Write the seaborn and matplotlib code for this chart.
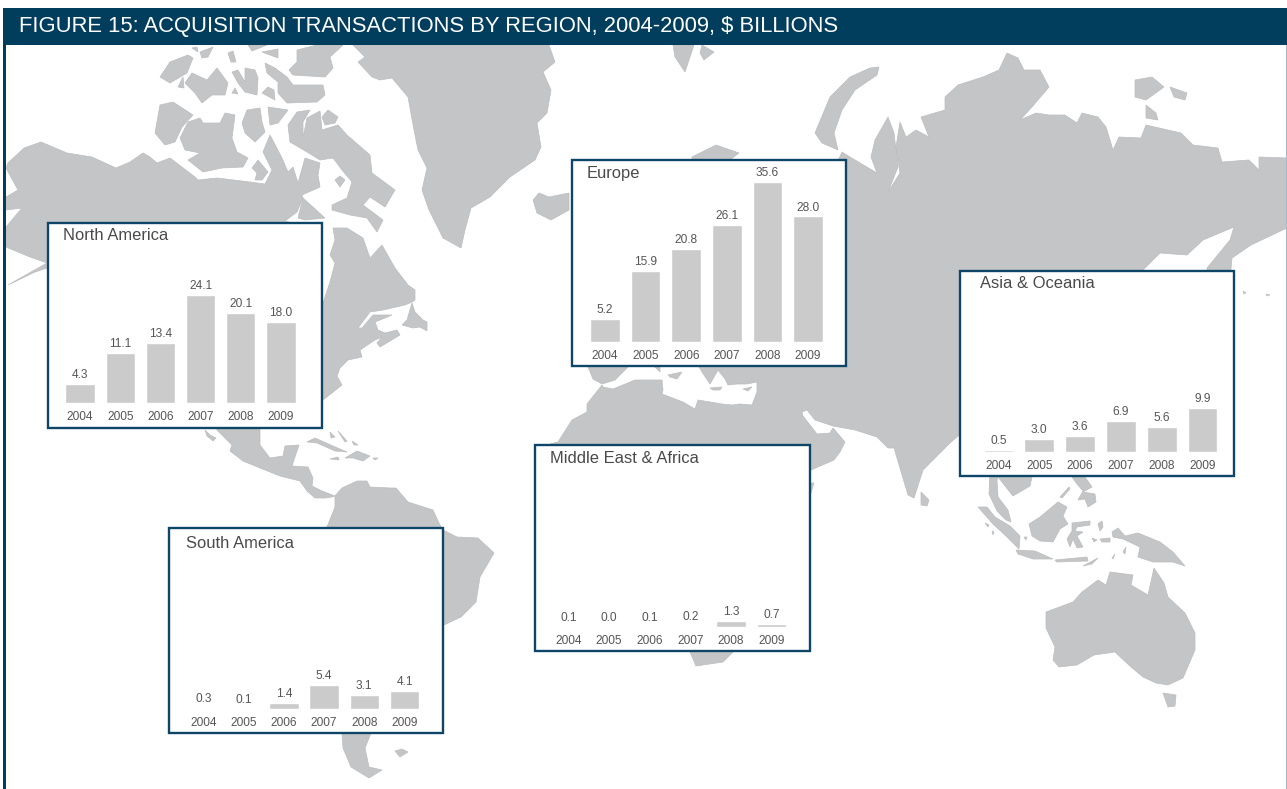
"""
Acquisition transactions by region, small bar charts on a world map
"""
import pandas as pd
import matplotlib.pyplot as plt
from matplotlib.patches import Polygon, Rectangle
import seaborn as sns

years = ["2004", "2005", "2006", "2007", "2008", "2009"]
north_america = [4.3, 11.1, 13.4, 24.1, 20.1, 18.0]
europe = [5.2, 15.9, 20.8, 26.1, 35.6, 28.0]
asia_oceania = [0.5, 3.0, 3.6, 6.9, 5.6, 9.9]
middle_east_africa = [0.1, 0.0, 0.1, 0.2, 1.3, 0.7]
south_america = [0.3, 0.1, 1.4, 5.4, 3.1, 4.1]

title = "FIGURE 15: ACQUISITION TRANSACTIONS BY REGION, 2004-2009, $ BILLIONS"

region_names = ["North America", "Europe", "Asia & Oceania", "Middle East & Africa", "South America"]
region_values = [north_america, europe, asia_oceania, middle_east_africa, south_america]

# pixel layout of each inset: box (l, t, r, b), baseline, first bar centre, bar step, title (x, y)
panel_layout = [
    ((47, 222, 322, 428), 403, 80.0, 40.2, (63, 235)),
    ((571, 159, 846, 366), 342, 605.0, 40.6, (587, 173)),
    ((959, 270, 1234, 476), 452, 998.5, 40.8, (980.5, 283)),
    ((534, 444, 810, 651), 627, 568.5, 40.6, (550, 458)),
    ((168, 527, 443, 733), 709, 203.5, 40.2, (186, 543)),
]

# land outlines, in pixels
americas_north = [(8,163),(24,148),(41,142),(67,153),(92,157),(116,168),(130,162),(143,153),(150,157),(157,163),
    (170,158),(195,177),(198,180),(217,178),(250,182),(265,184),(272,170),(263,152),(270,135),(282,158),(288,172),
    (293,167),(298,183),(305,158),(320,163),(318,175),(320,187),(302,195),(303,198),(297,212),(285,221),(318,230),
    (320,305),(323,303),(330,282),(335,263),(330,255),(335,240),(333,228),(347,228),(363,238),(370,258),(382,245),
    (395,268),(408,285),(415,290),(415,300),(412,302),(405,305),(383,310),(370,312),(358,328),(362,328),(373,315),
    (392,315),(385,318),(375,322),(378,330),(385,333),(397,330),(400,335),(380,347),(377,343),(382,337),(375,340),
    (360,350),(362,357),(348,360),(340,368),(337,376),(342,385),(323,400),(315,420),(260,420),(260,445),(270,458),
    (283,456),(285,446),(299,445),(292,466),(308,467),(313,478),(312,486),(322,491),(335,496),(332,497),(325,498),
    (315,498),(307,491),(300,481),(280,476),(265,470),(243,461),(230,451),(232,445),(217,430),(214,420),(100,420),
    (47,268),(35,272),(8,285),(47,263),(30,257),(6,247),(6,227),(22,208),(6,210),(6,197),(18,190),(6,168)]
south_am = [(327,527),(335,507),(335,496),(342,488),(357,481),(367,481),(370,487),(390,488),(396,488),(408,502),
    (433,510),(439,523),(443,530),(457,537),(478,538),(494,553),(480,577),(476,602),(461,617),(444,625),(430,625),
    (430,720),(371,733),(365,748),(369,767),(382,770),(369,778),(351,767),(343,748),(342,733),(342,720),(340,530)]
eurasia_africa = [(692,165),(692,157),(716,145),(739,153),(723,165),(836,165),(842,152),(850,157),(877,173),
    (871,157),(875,140),(888,117),(894,133),(898,167),(888,192),(900,173),(896,147),(900,122),(906,137),
    (916,130),(929,137),(921,117),(945,110),(945,97),(958,85),(983,77),(999,70),(1007,53),(1018,58),
    (1024,70),(1040,70),(1049,87),(1032,107),(1020,120),(1036,113),(1049,115),(1065,115),(1077,123),
    (1082,113),(1098,117),(1106,127),(1113,150),(1119,137),(1141,138),(1146,125),(1181,133),(1193,145),
    (1218,148),(1222,162),(1249,160),(1259,170),(1259,157),(1287,158),(1287,228),(1251,245),(1232,258),
    (1230,280),(1207,280),(1207,268),(1230,240),(1234,227),(1203,240),(1187,255),(1160,253),(1141,272),
    (1141,300),(1032,470),(1032,477),(1030,486),(1013,496),(998,477),(997,480),(998,497),(1008,510),(1011,522),
    (1006,520),(997,511),(989,494),(990,470),(965,470),(965,430),(950,443),(923,470),(914,498),(908,495),
    (894,448),(888,448),(877,437),(855,430),(833,426),(815,420),(807,410),(802,412),(803,416),(817,434),(830,433),
    (833,428),(845,442),(840,452),(834,460),(811,470),(800,470),(800,640),(733,640),(733,652),(723,662),(696,666),
    (690,652),(690,640),(560,640),(550,444),(558,442),(572,420),(587,412),(587,404),(602,385),(603,387),(613,389),
    (635,380),(662,380),(663,390),(662,394),(683,402),(695,409),(698,400),(722,404),(732,405),(740,404),(752,405),
    (757,392),(757,382),(747,384),(737,384),(728,385),(725,379),(718,370),(710,384),(702,372),(698,365),(660,365),
    (660,372),(655,367),(650,365),(630,365),(623,372),(615,380),(602,384),(593,379),(588,367),(585,300),(585,170)]
australia = [(1046,612),(1073,602),(1082,592),(1098,580),(1106,585),(1110,572),(1133,575),(1131,585),
    (1148,595),(1154,568),(1164,583),(1168,597),(1185,613),(1195,633),(1195,650),(1183,678),(1168,685),
    (1156,683),(1143,677),(1131,667),(1115,652),(1094,655),(1077,665),(1059,667),(1053,660),(1055,647),
    (1046,628)]
greenland = [(353,45),(549,45),(555,62),(543,72),(551,90),(547,113),(537,123),(541,147),(535,160),(510,177),
    (490,197),(471,208),(465,230),(461,248),(443,238),(429,210),(422,190),(427,168),(418,150),(414,130),
    (408,97),(392,78),(380,80),(372,77),(358,62),(365,57)]
arctic_canada = [
    [(160,105),(173,102),(193,115),(182,127),(175,142),(165,145),(155,133)],
    [(180,138),(188,122),(200,118),(203,123),(220,123),(225,113),(235,115),(232,138),(237,152),(248,158),(243,167),
     (222,168),(203,172),(188,160),(200,153),(185,150)],
    [(242,123),(247,110),(260,108),(262,122),(265,132),(255,142),(245,133)],
    [(268,107),(288,110),(278,123),(270,125)],
    [(252,168),(258,160),(268,172),(262,180),(255,180),(257,173)],
    [(288,125),(297,112),(310,110),(303,122),(303,138),(307,118),(320,111),(322,130),(338,125),(347,135),(370,155),
     (372,173),(395,190),(385,207),(370,197),(363,205),(383,220),(377,232),(367,218),(350,215),(332,210),(332,205),
     (347,198),(352,182),(342,170),(333,158),(320,160),(307,152),(290,142)],
    [(322,117),(328,110),(338,117),(335,123),(325,125)],
    [(298,218),(303,198),(325,218),(305,220)],
    [(335,180),(340,176),(345,180),(340,187)],
    [(160,77),(170,62),(188,55),(193,58),(187,73),(170,83)],
    [(178,87),(183,77),(184,88)],
    [(185,83),(192,73),(207,80),(217,68),(228,83),(225,95),(212,95),(202,103),(195,93)],
    [(232,72),(238,70),(245,82),(245,68),(255,70),(258,78),(257,95),(245,92),(238,83)],
    [(232,93),(235,88),(238,94)],
    [(262,93),(268,87),(274,90),(275,100)],
    [(265,63),(275,68),(287,77),(293,85),(323,85),(325,95),(317,102),(287,103),(278,93),(278,82),(267,73)],
    [(297,50),(317,45),(343,45),(330,57),(333,68),(325,77),(293,75),(289,70),(297,62)],
    [(200,52),(213,47),(208,57),(202,58)],
    [(192,48),(197,47),(198,52)],
    [(228,53),(233,51),(236,62),(231,62)],
    [(248,45),(267,45),(252,51)],
    [(262,52),(278,49),(278,58)],
]
other_islands = [
    [(533,200),(539,193),(549,197),(569,193),(569,210),(551,220),(537,213)],  # iceland
    [(673,45),(694,45),(685,72),(675,57)],
    [(702,45),(714,52),(704,60),(700,53)],
    [(879,67),(877,75),(855,90),(842,110),(834,133),(838,150),(822,143),(815,133),(830,97),(850,77),(870,68)],
    [(1135,80),(1152,77),(1164,87),(1146,100),(1135,97)],
    [(1170,87),(1187,93),(1185,100),(1174,97)],
    [(1146,105),(1156,113),(1158,120),(1146,118)],
    [(402,325),(407,320),(412,303),(415,312),(423,320),(427,322),(427,331),(420,327),(413,328)],  # newfoundland
    [(205,430),(210,435),(216,438),(213,441),(207,436)],
    [(307,442),(315,438),(333,446),(347,452),(335,451),(317,443)],  # caribbean
    [(345,458),(357,451),(370,456),(363,461),(353,458)],
    [(330,459),(338,457),(339,460)],
    [(373,458),(378,458),(375,460)],
    [(330,432),(335,437),(331,438)],
    [(338,431),(347,441),(345,442)],
    [(352,441),(358,445),(354,445)],
    [(395,751),(402,749),(408,752),(400,757)],
    [(668,375),(682,372),(677,379),(670,377)],  # mediterranean
    [(710,388),(722,387),(720,390),(713,390)],
    [(743,389),(752,387),(748,391)],
    [(809,483),(814,483),(810,496)],
    [(921,492),(929,500),(927,506),(921,505)],
    [(978,507),(987,507),(995,517),(1010,526),(1020,536),(1019,549),(1007,537),(993,524)],  # indonesia
    [(985,523),(989,525),(988,527)],
    [(992,531),(994,532),(993,535)],
    [(1024,537),(1027,537),(1026,540)],
    [(1016,550),(1035,551),(1053,559),(1033,559),(1018,554)],
    [(1055,560),(1087,557),(1088,561),(1057,562)],
    [(1083,566),(1098,558),(1092,564)],
    [(1029,524),(1040,517),(1058,502),(1067,507),(1063,516),(1068,524),(1060,529),(1053,542),(1040,541),(1032,536)],
    [(1072,523),(1090,521),(1090,525),(1077,527),(1075,531),(1083,532),(1077,536),(1083,547),(1077,548),(1073,539),
     (1070,547),(1067,539),(1072,531)],
    [(1072,477),(1085,477),(1092,487),(1083,492),(1095,494),(1096,502),(1088,507),(1085,499),(1078,500),(1083,491),(1077,484)],
    [(1060,497),(1069,487),(1070,489),(1062,498)],
    [(1112,532),(1118,528),(1125,536),(1138,533),(1160,542),(1173,552),(1185,566),(1173,562),(1153,562),(1138,557),
     (1140,547),(1123,539),(1113,537)],
    [(1098,524),(1102,521),(1103,527),(1100,531)],
    [(1100,539),(1110,538),(1110,542),(1102,542)],
    [(1092,538),(1097,540),(1094,542)],
    [(1123,552),(1126,547),(1125,554)],
    [(1112,558),(1115,554),(1113,559)],
    [(1163,693),(1176,695),(1175,706),(1168,707)],
    [(1243,291),(1246,293),(1244,294)],
    [(1266,294),(1270,295),(1267,296)],
]
land = ([americas_north, south_am, eurasia_africa, australia, greenland]
        + arctic_canada + other_islands)

sns.set_theme(style="white")
plt.rcParams['font.family'] = ['Liberation Sans', 'DejaVu Sans']

W, H = 1287, 789
PX_PER_UNIT = 4.49
fig = plt.figure(figsize=(W / 100, H / 100), dpi=100)

back = fig.add_axes([0, 0, 1, 1])
back.set_xlim(0, W)
back.set_ylim(H, 0)
back.axis("off")

for shape in land:
    back.add_patch(Polygon(shape, closed=True, facecolor="#c4c5c7", edgecolor="#bcbdbf", linewidth=0.5, zorder=1))

# header band and page rules
navy = "#013e5e"
back.add_patch(Rectangle((3, 7.5), W - 3, 37.5, facecolor=navy, edgecolor="none", zorder=3))
back.add_patch(Rectangle((3.2, 45), 2.4, H - 45, facecolor=navy, edgecolor="none", zorder=3))
back.plot([1286, 1286], [45, H], color="#a9bac6", lw=0.8, zorder=3)
back.text(19, 26, title, color="white", fontsize=15.85, va="center", ha="left", zorder=4)

for name, values, layout in zip(region_names, region_values, panel_layout):
    (left, top, right, bottom), baseline, first, step, (tx, ty) = layout
    back.add_patch(Rectangle((left + 1, top + 1), right - left - 1, bottom - top - 1, facecolor="white",
                             edgecolor="#0d4666", linewidth=1.7, zorder=2))
    back.text(tx, ty, name, color="#4a4a4a", fontsize=11.9, va="center", ha="left", zorder=4)

    # same scale in every panel
    height = 172
    ax = fig.add_axes([(first - step / 2) / W, 1 - baseline / H, step * 6 / W, height / H])
    df = pd.DataFrame({"year": years, "value": values})
    sns.barplot(data=df, x="year", y="value", color="#cbcbcb", saturation=1, width=0.73, ax=ax)
    ax.set_ylim(0, height / PX_PER_UNIT)
    ax.set_xlim(-0.5, 5.5)
    ax.patch.set_alpha(0)
    sns.despine(ax=ax, left=True, bottom=True)
    ax.set_xlabel("")
    ax.set_ylabel("")
    ax.set_yticks([])
    ax.tick_params(axis="x", length=0, pad=5.5, labelsize=8.6, labelcolor="#555555")
    ax.bar_label(ax.containers[0], fmt="%.1f", padding=2, fontsize=8.6, color="#555555")

fig.savefig("out.png", dpi=100)
